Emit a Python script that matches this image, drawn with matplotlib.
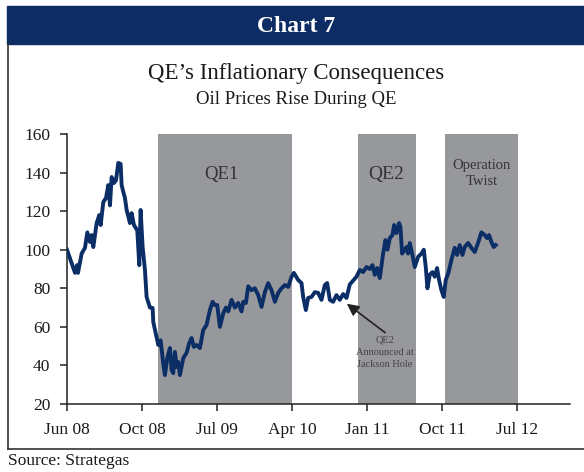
import matplotlib.pyplot as plt
from matplotlib.patches import Rectangle

# Oil price (months since start of 2008)
months = [0.0, 0.96, 1.2, 1.32, 1.76, 2.16, 2.44, 2.76, 2.96, 3.16, 3.56, 3.88, 4.04,
          4.36, 4.68, 4.96, 5.16, 5.36, 5.64, 5.88, 6.16, 6.44, 6.56, 6.76, 6.96, 7.16,
          7.56, 7.76, 8.04, 8.44, 8.68, 8.84, 9.08, 9.36, 9.56, 9.96, 10.28, 10.36,
          10.76, 10.96, 11.24, 11.56, 11.76, 12.04, 12.36, 12.56, 12.76, 12.96, 13.16,
          13.36, 13.56, 13.96, 14.36, 14.68, 14.96, 15.24, 15.56, 15.96, 16.36, 16.76,
          17.16, 17.48, 17.76, 18.04, 18.36, 18.76, 19.08, 19.36, 19.76, 20.16, 20.56,
          20.96, 21.16, 21.48, 21.76, 22.16, 22.56, 22.96, 23.36, 23.76, 24.16, 24.56,
          24.96, 25.36, 25.76, 26.16, 26.56, 26.96, 27.24, 27.76, 28.16, 28.36, 28.68,
          28.96, 29.36, 29.76, 30.16, 30.56, 30.96, 31.24, 31.56, 31.96, 32.36, 32.76,
          33.16, 33.56, 33.96, 34.36, 34.76, 35.16, 35.56, 35.96, 36.36, 36.68, 36.96,
          37.24, 37.56, 37.96, 38.24, 38.48, 38.76, 39.08, 39.28, 39.56, 39.88, 40.04,
          40.24, 40.56, 40.76, 40.96, 41.16, 41.48, 41.76, 42.16, 42.56, 42.84, 43.08,
          43.28, 43.56, 43.88, 44.16, 44.44, 44.68, 44.96, 45.24, 45.48, 45.8, 46.16,
          46.56, 46.84, 47.16, 47.48, 47.76, 48.16, 48.56, 48.96, 49.36, 49.76, 50.16,
          50.44, 50.68, 50.96, 51.24, 51.48]
price = [100, 88, 92, 88, 98, 101, 109, 104, 107.6, 101.4, 113.8, 118, 112.8,
         124.7, 126.8, 133.5, 123, 137.7, 134.6, 136, 145, 144.5, 133.5, 130, 126.8, 120.6,
         113.8, 119, 112.8, 110, 92, 120.6, 101.4, 89.5, 75.5, 70, 69.8, 62.5,
         54.7, 50.6, 53, 41, 35, 43.8, 49, 37.6, 36, 47, 39.2,
         41.8, 35, 43.8, 46.5, 51.6, 54.2, 49.6, 50.6, 49, 58.4, 61,
         68.7, 73, 71.3, 71.3, 60, 67, 70, 68, 74, 70, 72.4,
         68, 73, 72.4, 81, 79, 80, 76.5, 70.3, 78, 82.7, 79,
         73, 77.6, 80, 81.7, 80.7, 86, 88, 84.3, 82.7, 75.5, 68.7,
         75, 75.5, 78, 77.6, 74, 81.7, 82.7, 74, 73, 76.5, 74,
         77, 75, 82, 84, 86, 89.5, 88.4, 91, 90, 92, 87,
         90.5, 85.3, 98, 105, 100, 106, 107.6, 112.8, 108.6, 113.8, 111.8,
         98, 100, 101.4, 98, 103.5, 97.3, 91, 96.3, 98, 100, 91,
         80, 87, 88.4, 86, 90.5, 84.3, 79, 75.5, 84.3, 88, 94.7,
         101, 97.3, 102.4, 97.3, 101.4, 103.5, 101, 98.8, 103.5, 109, 107.6,
         106, 107.6, 104, 101.4, 102.4]

# shaded programs: (start, end) in months
programs = [(10.9, 27.0), (34.9, 41.9), (45.4, 54.2)]
program_labels = ['QE1', 'QE2', 'Operation\nTwist']

tick_pos = [0, 9, 18, 27, 36, 45, 54]
tick_labels = ['Jun 08', 'Oct 08', 'Jul 09', 'Apr 10', 'Jan 11', 'Oct 11', 'Jul 12']
yticks = [20, 40, 60, 80, 100, 120, 140, 160]

plt.rcParams['font.family'] = ['Liberation Serif', 'DejaVu Serif']

W, H = 584, 472
fig = plt.figure(figsize=(W / 100, H / 100), dpi=100)

def fx(px):
    return px / W

def fy(py):
    return 1 - py / H

# banner and frame
fig.patches.append(Rectangle((fx(7), fy(44)), fx(584) - fx(7), fy(6) - fy(44),
                             transform=fig.transFigure, color='#0C2C63', zorder=0))
fig.add_artist(plt.Line2D([fx(8), fx(8)], [fy(44), fy(449)], color='#333333', lw=1.2))
fig.add_artist(plt.Line2D([fx(8), fx(584)], [fy(449), fy(449)], color='#333333', lw=1.2))

fig.text(fx(296), fy(26), 'Chart 7', color='white', fontsize=17, fontweight='bold',
         ha='center', va='center')
fig.text(fx(296), fy(73), 'QE\u2019s Inflationary Consequences', color='#1a1a1a',
         fontsize=16.5, ha='center', va='center')
fig.text(fx(296), fy(99), 'Oil Prices Rise During QE', color='#1a1a1a',
         fontsize=13.5, ha='center', va='center')
fig.text(fx(8), fy(461), 'Source: Strategas', color='#1a1a1a', fontsize=12.5,
         ha='left', va='center')

ax = fig.add_axes([fx(67), fy(404), fx(570) - fx(67), (404 - 134) / H])

for (a, b) in programs:
    ax.axvspan(a, b, color='#97989C', lw=0, zorder=1)

ax.plot(months, price, color='#0B2E66', lw=2.8, zorder=3, solid_joinstyle='round')

ax.text(18.5, 139, program_labels[0], fontsize=13.5, color='#333333', ha='center', va='center')
ax.text(38.3, 139, program_labels[1], fontsize=14, color='#333333', ha='center', va='center')
ax.text(49.8, 139.5, program_labels[2], fontsize=10.5, color='#333333', ha='center',
        va='center', linespacing=1.3)

# Jackson Hole note: arrow and text drawn separately
ax.annotate('', xy=(33.6, 72), xytext=(38.2, 57),
            arrowprops=dict(arrowstyle='-|>', color='#222222', lw=1.2,
                            mutation_scale=18, shrinkA=0, shrinkB=0), zorder=4)
ax.text(38.2, 55.5, 'QE2\nAnnounced at\nJackson Hole', fontsize=7.5, color='#444444',
        ha='center', va='top', linespacing=1.45, zorder=4)

ax.set_xlim(0, 60.4)
ax.set_ylim(20, 160)
ax.set_xticks(tick_pos)
ax.set_xticklabels(tick_labels)
ax.set_yticks(yticks)
for s in ['top', 'right']:
    ax.spines[s].set_visible(False)
for s in ['left', 'bottom']:
    ax.spines[s].set_color('#222222')
    ax.spines[s].set_linewidth(1.1)
ax.tick_params(axis='both', direction='out', length=5, width=1.1, color='#222222',
               labelsize=12.5, labelcolor='#1a1a1a')
ax.tick_params(axis='x', pad=8)
ax.tick_params(axis='y', pad=7)
ax.set_facecolor('none')

fig.savefig('out.png', dpi=100)
